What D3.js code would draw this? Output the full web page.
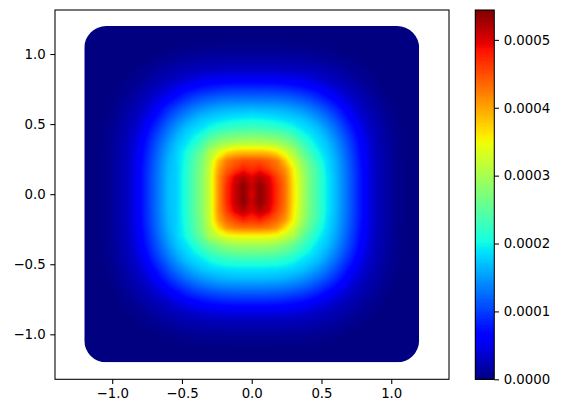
<!DOCTYPE html>
<html lang="en">
<head>
  <meta charset="UTF-8">
  <title>Heat map</title>
  <script src="https://d3js.org/d3.v7.min.js"></script>
  <style>
    body { margin: 0; background: white; }
    svg { display: block; }
    text { font-family: "DejaVu Sans", sans-serif; font-size: 13.3px; fill: black; }
  </style>
</head>
<body>
<div id="chart"></div>
<script>
// tick labels
var xTicks = [-1.0, -0.5, 0.0, 0.5, 1.0];
var yTicks = [-1.0, -0.5, 0.0, 0.5, 1.0];
var barTicks = [0, 0.0001, 0.0002, 0.0003, 0.0004, 0.0005];

// limits of the axes and of the sampled square
var xLimits = [-1.41, 1.414];
var yLimits = [-1.321, 1.314];
var gridExtent = [-1.2, 1.2];
var maxValue = 0.000544;
var valueUnit = 1e-5;

// values, in units of 1e-5, rows from y=1.2 down to y=-1.2
var gridValues = [
[0,0,0,0,0,0,0,0,0,0,0,0,0,0,0,0,0,0,0,0,0,0,0,0,0,0,0,0,0,0,0,0,0,0,0,0,0,0,0,0,0],
[0,0,0,0,0,0,0,0,0,0,0,0,0,0,0,0,0,0,0,0,0,0,0,0,0,0,0,0,0,0,0,0,0,0,0,0,0,0,0,0,0],
[0,0,0,0,0,0,0,0,0,.05,.1,.2,.3,.35,.4,.45,.45,.5,.5,.5,.5,.5,.5,.5,.45,.45,.4,.35,.3,.2,.1,.05,0,0,0,0,0,0,0,0,0],
[0,0,0,0,0,0,0,0,0,.25,.45,.6,.75,.8,.9,.9,.95,1,1,1,1,1,1,1,.95,.9,.9,.8,.75,.6,.45,.25,0,0,0,0,0,0,0,0,0],
[0,0,0,0,0,0,0,.2,.45,.7,.9,1.1,1.4,1.6,1.75,1.85,1.9,2,2,2,2,2,2,2,1.9,1.85,1.75,1.6,1.4,1.1,.9,.7,.45,.2,0,0,0,0,0,0,0],
[0,0,0,0,0,.05,.4,.7,.95,1.4,1.8,2.1,2.4,2.6,2.7,2.9,2.9,3,3,3,3,3,3,3,2.9,2.9,2.7,2.6,2.4,2.1,1.8,1.4,.95,.7,.4,.05,0,0,0,0,0],
[0,0,0,0,0,.4,.7,.95,1.5,2,2.5,2.9,3.4,3.9,4.3,4.6,4.8,4.9,5,5,5,5,5,4.9,4.8,4.6,4.3,3.9,3.4,2.9,2.5,2,1.5,.95,.7,.4,0,0,0,0,0],
[0,0,0,0,.2,.7,.95,1.6,2.3,2.8,3.5,4.4,5.2,6,6.8,7.3,7.6,7.9,8,8,8,8,8,7.9,7.6,7.3,6.8,6,5.2,4.4,3.5,2.8,2.3,1.6,.95,.7,.2,0,0,0,0],
[0,0,0,0,.45,.95,1.5,2.3,2.9,4,5.1,6.3,7.8,8.8,9.6,10.1,10.6,10.8,11,11,11,11,11,10.8,10.6,10.1,9.6,8.8,7.8,6.3,5.1,4,2.9,2.3,1.5,.95,.45,0,0,0,0],
[0,0,.05,.25,.7,1.4,2,2.8,4,5.4,7.2,8.7,10.1,11.4,12.3,13,13.5,13.8,13.9,14,14,14,13.9,13.8,13.5,13,12.3,11.4,10.1,8.7,7.2,5.4,4,2.8,2,1.4,.7,.25,.05,0,0],
[0,0,.1,.45,.9,1.8,2.5,3.5,5.1,7.2,9.2,11,12.6,13.9,15,15.8,16.4,16.7,16.9,17,17.3,17,16.9,16.7,16.4,15.8,15,13.9,12.6,11,9.2,7.2,5.1,3.5,2.5,1.8,.9,.45,.1,0,0],
[0,0,.2,.6,1.1,2.1,2.9,4.4,6.3,8.7,11,13,14.7,16.2,17.4,18,18.5,19,19.4,19.6,19.8,19.6,19.4,19,18.5,18,17.4,16.2,14.7,13,11,8.7,6.3,4.4,2.9,2.1,1.1,.6,.2,0,0],
[0,0,.3,.75,1.4,2.4,3.4,5.2,7.8,10.1,12.6,14.7,16.8,18,18.9,20.2,21.2,22,22.5,22.8,23,22.8,22.5,22,21.2,20.2,18.9,18,16.8,14.7,12.6,10.1,7.8,5.2,3.4,2.4,1.4,.75,.3,0,0],
[0,0,.35,.8,1.6,2.6,3.9,6,8.8,11.4,13.9,16.2,18,19.5,21,23.5,25,26,26.5,26.9,27,26.9,26.5,26,25,23.5,21,19.5,18,16.2,13.9,11.4,8.8,6,3.9,2.6,1.6,.8,.35,0,0],
[0,0,.4,.9,1.75,2.7,4.3,6.8,9.6,12.3,15,17.4,18.9,21,23.8,27,29,30.3,31,31.3,31.5,31.3,31,30.3,29,27,23.8,21,18.9,17.4,15,12.3,9.6,6.8,4.3,2.7,1.75,.9,.4,0,0],
[0,0,.45,.9,1.85,2.9,4.6,7.3,10.1,13,15.8,18,20.2,23,26,30.5,33.5,36.5,38,38.5,38.5,38.5,38,36.5,33.5,30.5,26,23,20.2,18,15.8,13,10.1,7.3,4.6,2.9,1.85,.9,.45,0,0],
[0,0,.45,.95,1.9,2.9,4.8,7.6,10.6,13.5,16.4,18.1,20.5,23.9,27.3,31.5,38,42.5,44,45,45,45,44,42.5,38,33,28.5,24.9,21.5,18.7,16.4,13.5,10.6,7.6,4.8,2.9,1.9,.95,.45,0,0],
[0,0,.5,1,2,3,4.9,7.9,10.8,13.8,16.7,18,20.8,24.2,27.5,32.5,40,44,46,48,47,48,46,44,41,35.5,30,26,22.8,19,16.7,13.8,10.8,7.9,4.9,3,2,1,.5,0,0],
[0,0,.5,1,2,3,5,8,11,13.9,16.9,18,21,24.5,28,32.5,41,46,50,52,50,52,50,46,42.5,36,30.7,26.5,23,19.5,16.9,13.9,11,8,5,3,2,1,.5,0,0],
[0,0,.5,1,2,3,5,8,11,14,17,18,21,24.5,28,32.5,41,47,51,54,51,54,51,47,43,36.5,31,26.5,23,19.5,17,14,11,8,5,3,2,1,.5,0,0],
[0,0,.5,1,2,3,5,8,11,14,17,18,21,24.5,28,32.5,41,47,51,54,50,54,51,47,43,36.5,31,26.5,23,19.5,17,14,11,8,5,3,2,1,.5,0,0],
[0,0,.5,1,2,3,5,8,11,14,17,18,21,24.5,28,32.5,41,47,51,54,51,54,51,47,43,36.5,31,26.5,23,19.5,17,14,11,8,5,3,2,1,.5,0,0],
[0,0,.5,1,2,3,5,8,11,13.9,16.9,18,21,24.5,28,32.5,41,46,50,52,50,52,50,46,42.5,36,30.7,26.5,23,19.5,16.9,13.9,11,8,5,3,2,1,.5,0,0],
[0,0,.5,1,2,3,4.9,7.9,10.8,13.8,16.7,18,20.8,24.2,27.5,32.5,40,44,46,48,47,48,46,44,41,35.5,30,26,22.8,19,16.7,13.8,10.8,7.9,4.9,3,2,1,.5,0,0],
[0,0,.45,.95,1.9,2.9,4.8,7.6,10.6,13.5,16.4,18.1,20.5,23.9,27.3,31.5,37,41,42.5,43,43,43,42.5,41,37,33,28.5,24.9,21.5,18.7,16.4,13.5,10.6,7.6,4.8,2.9,1.9,.95,.45,0,0],
[0,0,.45,.9,1.85,2.9,4.6,7.3,10.1,13,15.8,18,20.2,23,26,30.5,32.3,34.2,34.8,35,35,35,34.8,34.2,32.3,30.5,26,23,20.2,18,15.8,13,10.1,7.3,4.6,2.9,1.85,.9,.45,0,0],
[0,0,.4,.9,1.75,2.7,4.3,6.8,9.6,12.3,15,17.4,18.9,21,23.8,26,27.8,29,29.7,30,30,30,29.7,29,27.8,26,23.8,21,18.9,17.4,15,12.3,9.6,6.8,4.3,2.7,1.75,.9,.4,0,0],
[0,0,.35,.8,1.6,2.6,3.9,6,8.8,11.4,13.9,16.2,18,19.5,21,23,24.4,25.3,25.8,26,26,26,25.8,25.3,24.4,23,21,19.5,18,16.2,13.9,11.4,8.8,6,3.9,2.6,1.6,.8,.35,0,0],
[0,0,.3,.75,1.4,2.4,3.4,5.2,7.8,10.1,12.6,14.7,16.8,18,18.9,20.2,21,21.6,21.9,22,22,22,21.9,21.6,21,20.2,18.9,18,16.8,14.7,12.6,10.1,7.8,5.2,3.4,2.4,1.4,.75,.3,0,0],
[0,0,.2,.6,1.1,2.1,2.9,4.4,6.3,8.7,11,13,14.7,16.2,17.4,18,18.5,18.8,18.9,19,19,19,18.9,18.8,18.5,18,17.4,16.2,14.7,13,11,8.7,6.3,4.4,2.9,2.1,1.1,.6,.2,0,0],
[0,0,.1,.45,.9,1.8,2.5,3.5,5.1,7.2,9.2,11,12.6,13.9,15,15.8,16.4,16.7,16.9,17,17,17,16.9,16.7,16.4,15.8,15,13.9,12.6,11,9.2,7.2,5.1,3.5,2.5,1.8,.9,.45,.1,0,0],
[0,0,.05,.25,.7,1.4,2,2.8,4,5.4,7.2,8.7,10.1,11.4,12.3,13,13.5,13.8,13.9,14,14,14,13.9,13.8,13.5,13,12.3,11.4,10.1,8.7,7.2,5.4,4,2.8,2,1.4,.7,.25,.05,0,0],
[0,0,0,0,.45,.95,1.5,2.3,2.9,4,5.1,6.3,7.8,8.8,9.6,10.1,10.6,10.8,11,11,11,11,11,10.8,10.6,10.1,9.6,8.8,7.8,6.3,5.1,4,2.9,2.3,1.5,.95,.45,0,0,0,0],
[0,0,0,0,.2,.7,.95,1.6,2.3,2.8,3.5,4.4,5.2,6,6.8,7.3,7.6,7.9,8,8,8,8,8,7.9,7.6,7.3,6.8,6,5.2,4.4,3.5,2.8,2.3,1.6,.95,.7,.2,0,0,0,0],
[0,0,0,0,0,.4,.7,.95,1.5,2,2.5,2.9,3.4,3.9,4.3,4.6,4.8,4.9,5,5,5,5,5,4.9,4.8,4.6,4.3,3.9,3.4,2.9,2.5,2,1.5,.95,.7,.4,0,0,0,0,0],
[0,0,0,0,0,.05,.4,.7,.95,1.4,1.8,2.1,2.4,2.6,2.7,2.9,2.9,3,3,3,3,3,3,3,2.9,2.9,2.7,2.6,2.4,2.1,1.8,1.4,.95,.7,.4,.05,0,0,0,0,0],
[0,0,0,0,0,0,0,.2,.45,.7,.9,1.1,1.4,1.6,1.75,1.85,1.9,2,2,2,2,2,2,2,1.9,1.85,1.75,1.6,1.4,1.1,.9,.7,.45,.2,0,0,0,0,0,0,0],
[0,0,0,0,0,0,0,0,0,.25,.45,.6,.75,.8,.9,.9,.95,1,1,1,1,1,1,1,.95,.9,.9,.8,.75,.6,.45,.25,0,0,0,0,0,0,0,0,0],
[0,0,0,0,0,0,0,0,0,.05,.1,.2,.3,.35,.4,.45,.45,.5,.5,.5,.5,.5,.5,.5,.45,.45,.4,.35,.3,.2,.1,.05,0,0,0,0,0,0,0,0,0],
[0,0,0,0,0,0,0,0,0,0,0,0,0,0,0,0,0,0,0,0,0,0,0,0,0,0,0,0,0,0,0,0,0,0,0,0,0,0,0,0,0],
[0,0,0,0,0,0,0,0,0,0,0,0,0,0,0,0,0,0,0,0,0,0,0,0,0,0,0,0,0,0,0,0,0,0,0,0,0,0,0,0,0]
];

var width = 562, height = 413;
var plot = {left: 55, right: 449, top: 10, bottom: 379.3};
var bar = {left: 475.3, right: 494.3};
var tickLength = 4.67, tickPad = 4.67;

var xScale = d3.scaleLinear().domain(xLimits).range([plot.left, plot.right]);
var yScale = d3.scaleLinear().domain(yLimits).range([plot.bottom, plot.top]);
var barScale = d3.scaleLinear().domain([0, maxValue]).range([plot.bottom, plot.top]);

// jet colour map, one piecewise linear scale per channel
var red = d3.scaleLinear().domain([0, 0.35, 0.66, 0.89, 1]).range([0, 0, 255, 255, 128]);
var green = d3.scaleLinear().domain([0, 0.125, 0.375, 0.64, 0.91, 1]).range([0, 0, 255, 255, 0, 0]);
var blue = d3.scaleLinear().domain([0, 0.11, 0.34, 0.65, 1]).range([128, 255, 255, 0, 0]);
function jet(value) {
  var t = Math.min(1, value / maxValue);
  return d3.rgb(red(t), green(t), blue(t)).formatHex();
}

var svg = d3.select("#chart").append("svg")
  .attr("width", width)
  .attr("height", height);

// rounded square that the samples fill
var gridLeft = xScale(gridExtent[0]), gridRight = xScale(gridExtent[1]);
var gridTop = yScale(gridExtent[1]), gridBottom = yScale(gridExtent[0]);
svg.append("clipPath").attr("id", "square")
  .append("rect")
    .attr("x", gridLeft)
    .attr("y", gridTop)
    .attr("width", gridRight - gridLeft)
    .attr("height", gridBottom - gridTop)
    .attr("rx", 22);

// filled contours of the grid, the coordinates are in grid cells
var nCols = gridValues[0].length, nRows = gridValues.length;
var colScale = d3.scaleLinear().domain([0.5, nCols - 0.5]).range([gridLeft, gridRight]);
var rowScale = d3.scaleLinear().domain([0.5, nRows - 0.5]).range([gridTop, gridBottom]);
var levels = d3.range(0.25, 54.5, 0.25);
var contours = d3.contours().size([nCols, nRows]).thresholds(levels)(gridValues.flat());
var toPixels = d3.geoPath(d3.geoTransform({
  point: function(c, r) { this.stream.point(colScale(c), rowScale(r)); }
}));

var field = svg.append("g").attr("clip-path", "url(#square)");
field.append("rect")
  .attr("x", gridLeft)
  .attr("y", gridTop)
  .attr("width", gridRight - gridLeft)
  .attr("height", gridBottom - gridTop)
  .attr("fill", jet(0));
field.selectAll("path")
  .data(contours)
  .enter()
  .append("path")
    .attr("d", toPixels)
    .attr("fill", function(d) { return jet(d.value * valueUnit); });

// axes
var xAxis = d3.axisBottom(xScale).tickValues(xTicks).tickFormat(d3.format(".1f"))
  .tickSize(tickLength).tickPadding(tickPad);
var yAxis = d3.axisLeft(yScale).tickValues(yTicks).tickFormat(d3.format(".1f"))
  .tickSize(tickLength).tickPadding(tickPad);
var barAxis = d3.axisRight(barScale).tickValues(barTicks).tickFormat(d3.format(".4f"))
  .tickSize(tickLength).tickPadding(tickPad);

function drawAxis(axis, x, y) {
  var g = svg.append("g").attr("transform", "translate(" + x + "," + y + ")").call(axis);
  g.select(".domain").remove();
  g.selectAll("line").attr("stroke", "black").attr("stroke-width", 1.07);
  g.attr("font-size", null).attr("font-family", null);
}
drawAxis(xAxis, 0, plot.bottom);
drawAxis(yAxis, plot.left, 0);
drawAxis(barAxis, bar.right, 0);

// plot frame
svg.append("rect")
  .attr("x", plot.left)
  .attr("y", plot.top)
  .attr("width", plot.right - plot.left)
  .attr("height", plot.bottom - plot.top)
  .attr("fill", "none")
  .attr("stroke", "black")
  .attr("stroke-width", 1.07);

// colour bar, one strip per colour level
var barLevels = d3.range(256);
var barStep = maxValue / 256;
svg.append("g").attr("shape-rendering", "crispEdges").selectAll("rect")
  .data(barLevels)
  .enter()
  .append("rect")
    .attr("x", bar.left)
    .attr("width", bar.right - bar.left)
    .attr("y", function(d) { return barScale((d + 1) * barStep); })
    .attr("height", function(d) { return barScale(d * barStep) - barScale((d + 1) * barStep) + 0.5; })
    .attr("fill", function(d) { return jet((d + 0.5) * barStep); });

svg.append("rect")
  .attr("x", bar.left)
  .attr("y", plot.top)
  .attr("width", bar.right - bar.left)
  .attr("height", plot.bottom - plot.top)
  .attr("fill", "none")
  .attr("stroke", "black")
  .attr("stroke-width", 1.07);
</script>
</body>
</html>
